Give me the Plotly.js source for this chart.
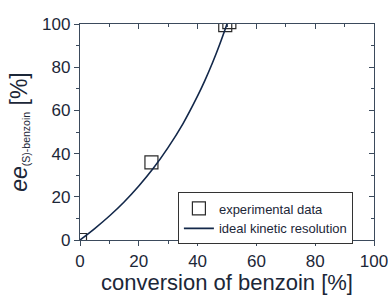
<!DOCTYPE html>
<html><head><meta charset="utf-8">
<script src="https://cdn.plot.ly/plotly-3.0.1.min.js"></script>
<style>body{margin:0;padding:0;background:#fff}#c{width:388px;height:295px}</style>
</head><body><div id="c"></div>
<script>
// experimental data
const expConversion = [0, 24.3, 49.4, 50.8];
const expEe = [0, 35.9, 99.5, 100.9];
// ideal kinetic resolution curve
const idealConversion = [0, 5, 10, 15, 20, 25, 30, 35, 40, 42.5, 45, 47.5, 50];
const idealEe = [0, 5.3, 11.1, 17.6, 25, 33.3, 42.9, 53.8, 66.7, 73.9, 81.8, 90.5, 100];
const tickVals = [0, 20, 40, 60, 80, 100];

const txt = '#1c2738';
const axc = '#3b4a5c';
const fam = 'Liberation Sans, Arial, sans-serif';
const traces = [
  {x: expConversion, y: expEe, mode: 'markers', type: 'scatter', name: 'experimental data',
   marker: {symbol: 'square-open', size: 13, color: '#2a2a2a', line: {width: 1.2}}, cliponaxis: true},
  {x: idealConversion, y: idealEe, mode: 'lines', type: 'scatter', name: 'ideal kinetic resolution',
   line: {color: '#13284a', width: 1.6, shape: 'spline'}, cliponaxis: true},
  {x: [0], y: [0], xaxis: 'x2', yaxis: 'y2', mode: 'markers', marker: {opacity: 0}, showlegend: false, hoverinfo: 'skip'}
];
const axBase = {range: [0, 100], tickvals: tickVals, showgrid: false, zeroline: false,
  showline: true, linecolor: axc, linewidth: 1.2, ticklen: 5, tickwidth: 1, tickcolor: axc,
  minor: {dtick: 10, ticklen: 3, tickcolor: axc, showgrid: false},
  tickfont: {family: fam, size: 17, color: txt}};
const layout = {
  width: 388, height: 295,
  margin: {l: 80, r: 14, t: 24, b: 55},
  paper_bgcolor: '#fff', plot_bgcolor: '#fff',
  showlegend: true,
  legend: {x: 0.333, y: 0.22, xanchor: 'left', yanchor: 'top', bordercolor: '#333', borderwidth: 1,
    bgcolor: '#fff', font: {family: fam, size: 13, color: txt},
    tracegroupgap: 0, itemwidth: 30},
  xaxis: Object.assign({}, axBase, {ticks: 'outside', ticklabeloverflow: 'allow',
    minor: Object.assign({}, axBase.minor, {ticks: 'outside'}),
    title: {text: 'conversion of benzoin [%]', standoff: 3,
      font: {family: fam, size: 22, color: txt}}}),
  yaxis: Object.assign({}, axBase, {ticks: 'outside', minor: Object.assign({}, axBase.minor, {ticks: 'outside'}),
    title: {text: '<i>ee</i><span style="font-size:15px"><sub>(S)-benzoin</sub></span> [%]', standoff: 8,
      font: {family: fam, size: 23, color: txt}}}),
  xaxis2: Object.assign({}, axBase, {overlaying: 'x', side: 'top', ticks: 'inside', showticklabels: false,
    minor: Object.assign({}, axBase.minor, {ticks: 'inside'})}),
  yaxis2: Object.assign({}, axBase, {overlaying: 'y', side: 'right', ticks: 'inside', showticklabels: false,
    minor: Object.assign({}, axBase.minor, {ticks: 'inside'})})
};
Plotly.newPlot('c', traces, layout, {displayModeBar: false, staticPlot: true});
</script></body></html>
